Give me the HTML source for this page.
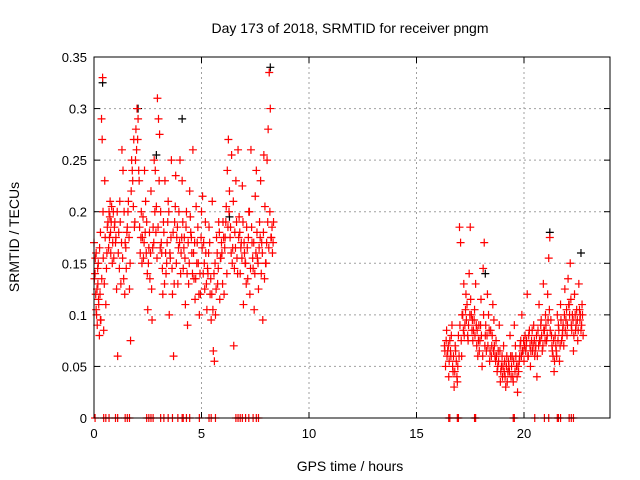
<!DOCTYPE html>
<html><head><meta charset="utf-8"><style>
body{margin:0;background:#fff}
svg{display:block;font-family:"Liberation Sans",sans-serif}
</style></head><body>
<svg id="chart" width="640" height="480" viewBox="0 0 640 480">
<rect width="640" height="480" fill="#fff"/>
<text x="350" y="33" font-size="14" text-anchor="middle">Day 173 of 2018, SRMTID for receiver pngm</text>
<text x="350" y="471" font-size="14" text-anchor="middle">GPS time / hours</text>
<text x="0" y="0" font-size="14" text-anchor="middle" transform="translate(19,237) rotate(-90)">SRMTID / TECUs</text>
<g id="grid"></g><g id="ticks"></g><g id="marks"></g>
<rect x="94" y="57" width="516" height="361" fill="none" stroke="#000" stroke-width="1"/>
</svg>
<script>
const xTicks=[0,5,10,15,20];
const yTicks=[0,0.05,0.1,0.15,0.2,0.25,0.3,0.35];
const yTickLabels=["0","0.05","0.1","0.15","0.2","0.25","0.3","0.35"];
const redTimes1=[0.0,0.05,0.08,0.1,0.12,0.15,0.18,0.2,0.22,0.25,0.28,0.3,0.32,0.35,0.38,0.4,0.42,0.45,0.48,0.5,0.55,0.6,0.65,0.7,0.72,0.75,0.78,0.8,0.85,0.9,0.95,1.0,1.05,1.1,1.15,1.2,1.25,1.3,1.35,1.4,1.45,1.5,1.55,1.6,1.65,1.7,1.75,1.8,1.85,1.9,1.95,2.0,2.05,2.1,2.15,2.2,2.25,2.3,2.35,2.4,2.45,2.5,2.55,2.6,2.65,2.7,2.75,2.8,2.85,2.9,2.95,3.0,3.05,3.1,3.15,3.2,3.25,3.3,3.35,3.4,3.45,3.5,3.55,3.6,3.65,3.7,3.75,3.8,3.85,3.9,3.95,4.0,4.05,4.1,4.15,4.2,4.25,4.3,4.35,4.4,4.45,4.5,4.55,4.6,4.65,4.7,4.75,4.8,4.85,4.9,4.95,5.0,5.05,5.1,5.15,5.2,5.25,5.3,5.35,5.4,5.45,5.5,5.55,5.6,5.65,5.7,5.75,5.8,5.85,5.9,5.95,6.0,6.05,6.1,6.15,6.2,6.25,6.3,6.35,6.4,6.45,6.5,6.55,6.6,6.65,6.7,6.75,6.8,6.85,6.9,6.95,7.0,7.05,7.1,7.15,7.2,7.25,7.3,7.35,7.4,7.45,7.5,7.55,7.6,7.65,7.7,7.75,7.8,7.85,7.9,7.95,8.0,8.05,8.1,8.15,8.2,8.25,8.3,8.35];
const redValues1=[0.17,0.14,0.12,0.16,0.1,0.09,0.13,0.15,0.11,0.08,0.12,0.18,0.095,0.29,0.27,0.33,0.2,0.085,0.13,0.23,0.11,0.16,0.19,0.2,0.175,0.21,0.16,0.19,0.15,0.2,0.185,0.17,0.125,0.06,0.18,0.21,0.13,0.26,0.24,0.2,0.17,0.145,0.185,0.21,0.125,0.075,0.25,0.23,0.27,0.19,0.28,0.3,0.29,0.23,0.16,0.2,0.175,0.155,0.24,0.21,0.19,0.105,0.165,0.135,0.22,0.095,0.185,0.25,0.24,0.205,0.31,0.29,0.275,0.2,0.16,0.12,0.18,0.23,0.14,0.17,0.21,0.1,0.155,0.25,0.12,0.06,0.19,0.235,0.175,0.13,0.2,0.25,0.16,0.23,0.145,0.175,0.11,0.2,0.09,0.13,0.22,0.18,0.16,0.26,0.135,0.115,0.205,0.17,0.15,0.1,0.12,0.2,0.215,0.17,0.125,0.16,0.105,0.14,0.185,0.12,0.095,0.21,0.065,0.055,0.1,0.175,0.13,0.19,0.115,0.155,0.16,0.19,0.12,0.175,0.205,0.24,0.27,0.22,0.185,0.255,0.165,0.07,0.18,0.23,0.155,0.26,0.195,0.14,0.17,0.225,0.11,0.16,0.15,0.185,0.135,0.2,0.12,0.26,0.17,0.145,0.105,0.215,0.24,0.155,0.125,0.19,0.23,0.17,0.095,0.255,0.205,0.15,0.25,0.28,0.335,0.3,0.175,0.16,0.19];
const redTimes1b=[0.02,0.06,0.1,0.14,0.17,0.21,0.26,0.3,0.36,0.43,0.52,0.58,0.62,0.68,0.74,0.77,0.82,0.87,0.92,0.97,1.02,1.08,1.13,1.18,1.22,1.28,1.33,1.38,1.43,1.48,1.53,1.58,1.63,1.68,1.73,1.78,1.83,1.88,1.93,1.98,2.03,2.08,2.12,2.18,2.23,2.28,2.33,2.38,2.43,2.48,2.53,2.58,2.63,2.68,2.73,2.78,2.83,2.88,2.93,2.98,3.03,3.08,3.13,3.18,3.23,3.28,3.33,3.38,3.43,3.48,3.53,3.58,3.63,3.68,3.73,3.78,3.83,3.88,3.93,3.98,4.03,4.08,4.13,4.18,4.23,4.28,4.33,4.38,4.43,4.48,4.53,4.58,4.63,4.68,4.73,4.78,4.83,4.88,4.93,4.98,5.03,5.08,5.13,5.18,5.23,5.28,5.33,5.38,5.43,5.48,5.53,5.58,5.63,5.68,5.73,5.78,5.83,5.88,5.93,5.98,6.03,6.08,6.13,6.18,6.23,6.28,6.33,6.38,6.43,6.48,6.53,6.58,6.63,6.68,6.73,6.78,6.83,6.88,6.93,6.98,7.03,7.08,7.13,7.18,7.23,7.28,7.33,7.38,7.43,7.48,7.53,7.58,7.63,7.68,7.73,7.78,7.83,7.88,7.93,7.98,8.03,8.08,8.13,8.18,8.23,8.28,8.33];
const redValues1b=[0.135,0.155,0.105,0.125,0.145,0.115,0.165,0.095,0.135,0.155,0.175,0.145,0.185,0.165,0.195,0.18,0.205,0.17,0.155,0.19,0.175,0.2,0.16,0.145,0.19,0.17,0.155,0.135,0.12,0.165,0.18,0.2,0.175,0.15,0.22,0.24,0.205,0.185,0.25,0.26,0.27,0.24,0.185,0.175,0.15,0.195,0.17,0.18,0.16,0.14,0.15,0.18,0.16,0.125,0.165,0.17,0.2,0.18,0.155,0.185,0.23,0.165,0.17,0.145,0.19,0.13,0.16,0.15,0.19,0.2,0.16,0.175,0.145,0.18,0.13,0.205,0.15,0.185,0.165,0.17,0.14,0.175,0.19,0.165,0.155,0.185,0.14,0.17,0.15,0.195,0.175,0.14,0.16,0.17,0.135,0.15,0.185,0.12,0.14,0.175,0.165,0.14,0.15,0.19,0.13,0.145,0.16,0.17,0.135,0.12,0.105,0.14,0.15,0.125,0.16,0.145,0.18,0.155,0.17,0.13,0.175,0.165,0.19,0.14,0.185,0.2,0.175,0.16,0.15,0.21,0.145,0.165,0.19,0.14,0.175,0.18,0.165,0.155,0.19,0.17,0.15,0.13,0.165,0.175,0.2,0.145,0.185,0.155,0.17,0.14,0.16,0.18,0.15,0.165,0.175,0.14,0.16,0.18,0.135,0.15,0.17,0.19,0.165,0.2,0.175,0.185,0.17];
const redTimes2=[16.3,16.35,16.4,16.45,16.5,16.55,16.6,16.65,16.7,16.75,16.8,16.85,16.9,16.95,17.0,17.05,17.1,17.15,17.2,17.25,17.3,17.35,17.4,17.45,17.5,17.55,17.6,17.65,17.7,17.75,17.8,17.85,17.9,17.95,18.0,18.05,18.1,18.15,18.2,18.25,18.3,18.35,18.4,18.45,18.5,18.55,18.6,18.65,18.7,18.75,18.8,18.85,18.9,18.95,19.0,19.05,19.1,19.15,19.2,19.25,19.3,19.35,19.4,19.45,19.5,19.55,19.6,19.65,19.7,19.75,19.8,19.85,19.9,19.95,20.0,20.05,20.1,20.15,20.2,20.25,20.3,20.35,20.4,20.45,20.5,20.55,20.6,20.65,20.7,20.75,20.8,20.85,20.9,20.95,21.0,21.05,21.1,21.15,21.2,21.25,21.3,21.35,21.4,21.45,21.5,21.55,21.6,21.65,21.7,21.75,21.8,21.85,21.9,21.95,22.0,22.05,22.1,22.15,22.2,22.25,22.3,22.35,22.4,22.45,22.5,22.55,22.6,22.65,22.7,22.75];
const redValues2=[0.07,0.05,0.085,0.065,0.04,0.075,0.06,0.09,0.045,0.03,0.07,0.055,0.035,0.08,0.185,0.17,0.06,0.1,0.13,0.09,0.12,0.11,0.075,0.14,0.185,0.1,0.095,0.085,0.105,0.13,0.07,0.06,0.09,0.075,0.115,0.05,0.145,0.17,0.08,0.065,0.12,0.1,0.055,0.085,0.07,0.11,0.095,0.06,0.075,0.045,0.065,0.09,0.035,0.05,0.04,0.07,0.055,0.03,0.06,0.045,0.05,0.08,0.04,0.06,0.035,0.09,0.07,0.05,0.025,0.045,0.06,0.075,0.1,0.065,0.055,0.08,0.07,0.12,0.06,0.085,0.05,0.075,0.065,0.09,0.06,0.07,0.04,0.085,0.11,0.075,0.095,0.065,0.13,0.085,0.1,0.075,0.12,0.155,0.175,0.095,0.07,0.06,0.045,0.08,0.065,0.1,0.09,0.055,0.11,0.075,0.085,0.07,0.125,0.095,0.08,0.135,0.11,0.15,0.09,0.1,0.065,0.12,0.085,0.105,0.075,0.13,0.095,0.085,0.11,0.08];
const redTimes2b=[16.32,16.38,16.42,16.48,16.52,16.58,16.62,16.68,16.72,16.78,16.82,16.88,16.92,16.98,17.02,17.08,17.12,17.18,17.22,17.28,17.32,17.38,17.42,17.48,17.52,17.58,17.62,17.68,17.72,17.78,17.82,17.88,17.92,17.98,18.02,18.08,18.12,18.18,18.22,18.28,18.32,18.38,18.42,18.48,18.52,18.58,18.62,18.68,18.72,18.78,18.82,18.88,18.92,18.98,19.02,19.08,19.12,19.18,19.22,19.28,19.32,19.38,19.42,19.48,19.52,19.58,19.62,19.68,19.72,19.78,19.82,19.88,19.92,19.98,20.02,20.08,20.12,20.18,20.22,20.28,20.32,20.38,20.42,20.48,20.52,20.58,20.62,20.68,20.72,20.78,20.82,20.88,20.92,20.98,21.02,21.08,21.12,21.18,21.22,21.28,21.32,21.38,21.42,21.48,21.52,21.58,21.62,21.68,21.72,21.78,21.82,21.88,21.92,21.98,22.02,22.08,22.12,22.18,22.22,22.28,22.32,22.38,22.42,22.48,22.52,22.58,22.62,22.68,22.72];
const redValues2b=[0.065,0.075,0.06,0.07,0.055,0.065,0.08,0.05,0.06,0.045,0.065,0.04,0.05,0.06,0.09,0.075,0.1,0.085,0.08,0.105,0.095,0.08,0.09,0.1,0.115,0.085,0.075,0.095,0.08,0.09,0.085,0.075,0.065,0.09,0.08,0.06,0.1,0.07,0.09,0.08,0.07,0.085,0.065,0.06,0.08,0.065,0.07,0.055,0.06,0.05,0.055,0.065,0.045,0.06,0.05,0.045,0.04,0.05,0.035,0.055,0.045,0.06,0.05,0.04,0.055,0.045,0.06,0.04,0.05,0.055,0.07,0.06,0.065,0.075,0.07,0.065,0.075,0.06,0.08,0.07,0.065,0.085,0.07,0.075,0.065,0.08,0.06,0.07,0.075,0.09,0.08,0.07,0.085,0.075,0.09,0.08,0.095,0.105,0.085,0.08,0.065,0.075,0.055,0.07,0.06,0.075,0.085,0.07,0.095,0.08,0.09,0.1,0.085,0.105,0.09,0.11,0.1,0.115,0.085,0.095,0.08,0.1,0.09,0.095,0.085,0.105,0.1,0.09,0.1];
const zeroTimes=[0.05,0.45,0.55,0.7,1.0,1.1,1.45,1.55,1.65,2.45,2.55,2.65,2.75,3.1,3.25,3.45,3.65,3.9,4.1,4.15,4.3,4.45,4.9,5.35,5.45,5.65,6.6,6.7,6.8,6.9,7.05,7.2,7.4,7.55,7.65,16.5,16.55,16.9,16.95,17.7,17.75,19.5,19.55,20.5,20.95,21.15,21.55,21.6,21.7,22.1,22.2,22.3];
const blackTimes=[0.4,2.05,8.2,4.1,18.2,22.65,6.3,2.9,21.2];
const blackValues=[0.325,0.3,0.34,0.29,0.14,0.16,0.195,0.255,0.18];

const L=94,R=610,T=57,B=418,XMAX=24,YMAX=0.35;
const xs=v=>L+v/XMAX*(R-L);
const ys=v=>B-v/YMAX*(B-T);
const NS="http://www.w3.org/2000/svg";
const grid=document.getElementById('grid'),ticks=document.getElementById('ticks'),marks=document.getElementById('marks');
function mk(tag,attrs,parent){const e=document.createElementNS(NS,tag);for(const k in attrs)e.setAttribute(k,attrs[k]);parent.appendChild(e);return e;}
xTicks.forEach(t=>{
  const x=xs(t);
  if(t>0){const g=mk('line',{x1:x,x2:x,y1:T,y2:B,stroke:'#a0a0a0','stroke-dasharray':'2,3'},grid);
  
  }
  mk('line',{x1:x,x2:x,y1:B,y2:B-6,stroke:'#000'},ticks);
  mk('line',{x1:x,x2:x,y1:T,y2:T+6,stroke:'#000'},ticks);
  const lb=mk('text',{x:x,y:B+20,'font-size':13,'text-anchor':'middle'},ticks);
  lb.textContent=t;
  
  
});
yTicks.forEach((t,i)=>{
  const y=ys(t);
  if(t>0&&t<YMAX){const g=mk('line',{x1:L,x2:R,y1:y,y2:y,stroke:'#a0a0a0','stroke-dasharray':'2,3'},grid);
  
  }
  mk('line',{x1:L,x2:L+6,y1:y,y2:y,stroke:'#000'},ticks);
  mk('line',{x1:R,x2:R-6,y1:y,y2:y,stroke:'#000'},ticks);
  const lb=mk('text',{x:L-7,y:y+5,'font-size':13,'text-anchor':'end'},ticks);
  lb.textContent=yTickLabels[i];
  
  
});
function plus(t,v,col,name){
  const x=xs(t),y=ys(v);
  const p=mk('path',{d:`M${x-4},${y}H${x+4}M${x},${y-4}V${y+4}`,stroke:col,'stroke-width':1.2,fill:'none'},marks);
  
  
}
blackTimes.forEach((t,i)=>plus(t,blackValues[i],'#000','black-point'));
redTimes1.forEach((t,i)=>plus(t,redValues1[i],'#f00','red-point'));
redTimes1b.forEach((t,i)=>plus(t,redValues1b[i],'#f00','red-point'));
redTimes2.forEach((t,i)=>plus(t,redValues2[i],'#f00','red-point'));
redTimes2b.forEach((t,i)=>plus(t,redValues2b[i],'#f00','red-point'));
zeroTimes.forEach(t=>plus(t,0,'#f00','zero-point'));
</script>
</body></html>
